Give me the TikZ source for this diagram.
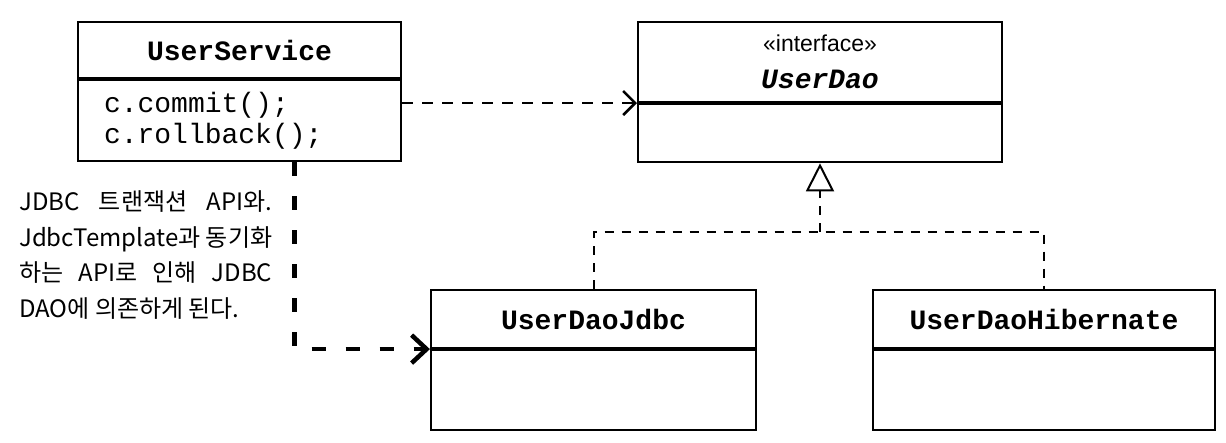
\documentclass[tikz,border=0pt]{standalone}
\usepackage{fontspec}
\newfontfamily\codefont{Liberation Mono}
\newfontfamily\stereofont{Liberation Sans}
\newfontfamily\hangulfont{Noto Sans CJK KR}
\usetikzlibrary{positioning, arrows.meta}

\begin{document}
\begin{tikzpicture}[x=1pt, y=-1pt,
        classname/.style={draw, line width=2.2pt, inner sep=0pt, align=center,
            font=\codefont\bfseries\fontsize{28}{37}\selectfont},
        classbody/.style={draw, line width=2.2pt, inner sep=0pt, align=left,
            font=\codefont\fontsize{28}{31}\selectfont},
        dep/.style={line width=2.5pt, dash pattern=on 11pt off 9pt,
            -{Straight Barb[length=12pt,width=24pt]}},
        realize/.style={line width=2pt, dash pattern=on 9pt off 8pt},
        usesdep/.style={line width=4.5pt, dash pattern=on 14pt off 20pt,
            -{Straight Barb[length=15pt,width=28pt]}},
        note/.style={inner sep=0pt, align=left,
            font=\hangulfont\fontsize{24}{35.5}\selectfont}]

        \useasboundingbox (0,0) rectangle (1226,442);

        % UserService class
        \node[classname, minimum width=323pt, minimum height=56pt] (svc) at (239.5,50) {UserService};
        \node[classbody, below=0pt of svc, minimum width=323pt, minimum height=81pt,
            text width=271pt] (svcbody) {c.commit();\\c.rollback();};

        % UserDao interface
        \node[classname, minimum width=364pt, minimum height=80pt] (dao) at (820,62)
            {{\stereofont\mdseries\fontsize{23}{37}\selectfont «interface»}\\\itshape UserDao};
        \node[classbody, below=0pt of dao, minimum width=364pt, minimum height=58pt] (daobody) {};

        % implementations
        \node[classname, minimum width=325pt, minimum height=58pt] (jdbc) at (593.5,319) {UserDaoJdbc};
        \node[classbody, below=0pt of jdbc, minimum width=325pt, minimum height=80pt] (jdbcbody) {};
        \node[classname, minimum width=342pt, minimum height=58pt] (hib) at (1044,319) {UserDaoHibernate};
        \node[classbody, below=0pt of hib, minimum width=342pt, minimum height=80pt] (hibbody) {};

        % UserService -> UserDao
        \draw[dep] (svcbody.east |- dao.south) -- (dao.south west);

        % realization of UserDao
        \coordinate (fork) at (820,232);
        \draw[realize] (jdbc.north) |- (fork) -| (hib.north);
        \draw[realize, -{Triangle[open, length=28pt, width=28pt]}] (fork) -- (daobody.south);

        % hidden dependency on UserDaoJdbc
        \draw[usesdep] ([xshift=55pt]svcbody.south) |- (jdbc.south west);

        % note
        \node[note, anchor=west] (remark) at (19,255) {%
            \makebox[253pt][s]{JDBC 트랜잭션 API와.}\\
            \makebox[253pt][s]{JdbcTemplate과 동기화}\\
            \makebox[253pt][s]{하는 API로 인해 JDBC}\\
            DAO에 의존하게 된다.};

    \end{tikzpicture}
\end{document}
